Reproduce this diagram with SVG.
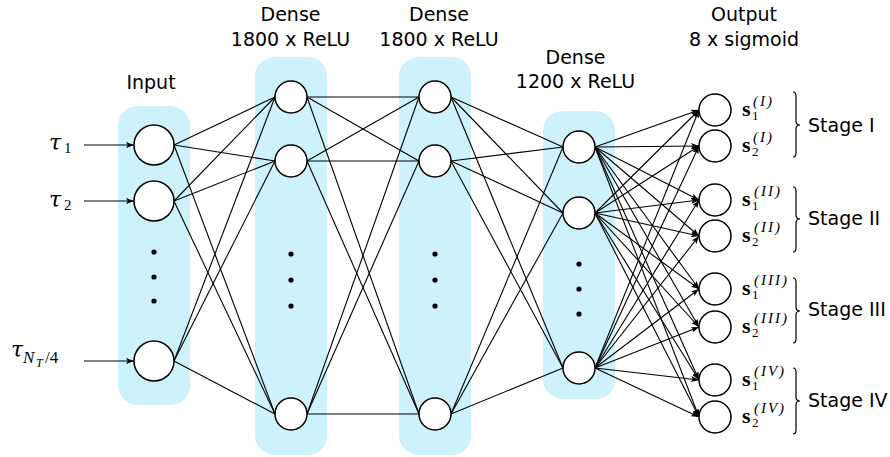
<svg xmlns="http://www.w3.org/2000/svg" width="890" height="457" viewBox="0 0 890 457">
<defs>
<marker id="arr" markerUnits="userSpaceOnUse" markerWidth="9" markerHeight="6" refX="8" refY="3" orient="auto">
<path d="M0,0 L8,3 L0,6 L1.8,3 Z" fill="#000"/>
</marker>
<style>
.bg{fill:#cdf2fb}
.n{fill:#fff;stroke:#000;stroke-width:1.5}
.c line{stroke:#000;stroke-width:1.1}
.a{stroke:#000;stroke-width:1.1;marker-end:url(#arr)}
.t{font-family:"DejaVu Sans",sans-serif;font-size:19px;fill:#000;text-anchor:middle}
.st{font-family:"DejaVu Sans",sans-serif;font-size:19px;fill:#000}
.m{font-family:"Liberation Serif",serif;fill:#000}
.tau{font-family:"DejaVu Serif","Liberation Serif",serif;font-style:italic;font-size:22px;fill:#000}
.br{fill:none;stroke:#000;stroke-width:1.2}
</style>
</defs>
<rect width="890" height="457" fill="#fff"/>
<g id="layers">
<rect class="bg" x="118" y="106" width="72" height="299" rx="20"/>
<rect class="bg" x="255" y="57" width="72" height="398" rx="20"/>
<rect class="bg" x="399" y="57" width="72" height="398" rx="20"/>
<rect class="bg" x="543" y="111" width="72" height="288" rx="20"/>
<circle cx="154" cy="252" r="2.6"/><circle cx="154" cy="277" r="2.6"/><circle cx="154" cy="301" r="2.6"/>
<circle cx="291" cy="254" r="2.6"/><circle cx="291" cy="280" r="2.6"/><circle cx="291" cy="306" r="2.6"/>
<circle cx="435" cy="254" r="2.6"/><circle cx="435" cy="280" r="2.6"/><circle cx="435" cy="306" r="2.6"/>
<circle cx="579" cy="264" r="2.6"/><circle cx="579" cy="289" r="2.6"/><circle cx="579" cy="314" r="2.6"/>
</g>
<g id="titles">
<text class="t" x="151" y="89">Input</text>
<text class="t" x="290.5" y="21">Dense</text>
<text class="t" x="290.5" y="46">1800 x ReLU</text>
<text class="t" x="439" y="21">Dense</text>
<text class="t" x="439" y="46">1800 x ReLU</text>
<text class="t" x="575.5" y="64">Dense</text>
<text class="t" x="575.5" y="88">1200 x ReLU</text>
<text class="t" x="744" y="21">Output</text>
<text class="t" x="744" y="46">8 x sigmoid</text>
</g>
<g id="connectors">
<g class="c">
<line x1="174" y1="145" x2="275" y2="97"/><line x1="174" y1="145" x2="275" y2="161"/><line x1="174" y1="145" x2="275" y2="414"/>
<line x1="174" y1="201" x2="275" y2="97"/><line x1="174" y1="201" x2="275" y2="161"/><line x1="174" y1="201" x2="275" y2="414"/>
<line x1="174" y1="361" x2="275" y2="97"/><line x1="174" y1="361" x2="275" y2="161"/><line x1="174" y1="361" x2="275" y2="414"/>
<line x1="307" y1="97" x2="419" y2="97"/><line x1="307" y1="97" x2="419" y2="161"/><line x1="307" y1="97" x2="419" y2="414"/>
<line x1="307" y1="161" x2="419" y2="97"/><line x1="307" y1="161" x2="419" y2="161"/><line x1="307" y1="161" x2="419" y2="414"/>
<line x1="307" y1="414" x2="419" y2="97"/><line x1="307" y1="414" x2="419" y2="161"/><line x1="307" y1="414" x2="419" y2="414"/>
<line x1="451" y1="97" x2="563" y2="147"/><line x1="451" y1="97" x2="563" y2="213"/><line x1="451" y1="97" x2="563" y2="368"/>
<line x1="451" y1="161" x2="563" y2="147"/><line x1="451" y1="161" x2="563" y2="213"/><line x1="451" y1="161" x2="563" y2="368"/>
<line x1="451" y1="414" x2="563" y2="147"/><line x1="451" y1="414" x2="563" y2="213"/><line x1="451" y1="414" x2="563" y2="368"/>
</g>
<g class="a">
<line x1="84" y1="145" x2="134" y2="145"/>
<line x1="84" y1="201" x2="134" y2="201"/>
<line x1="84" y1="361" x2="134" y2="361"/>
<line x1="595" y1="147" x2="699" y2="110"/><line x1="595" y1="147" x2="699" y2="146"/><line x1="595" y1="147" x2="699" y2="200"/><line x1="595" y1="147" x2="699" y2="236"/>
<line x1="595" y1="147" x2="699" y2="289"/><line x1="595" y1="147" x2="699" y2="327"/><line x1="595" y1="147" x2="699" y2="380"/><line x1="595" y1="147" x2="699" y2="417"/>
<line x1="595" y1="213" x2="699" y2="110"/><line x1="595" y1="213" x2="699" y2="146"/><line x1="595" y1="213" x2="699" y2="200"/><line x1="595" y1="213" x2="699" y2="236"/>
<line x1="595" y1="213" x2="699" y2="289"/><line x1="595" y1="213" x2="699" y2="327"/><line x1="595" y1="213" x2="699" y2="380"/><line x1="595" y1="213" x2="699" y2="417"/>
<line x1="595" y1="368" x2="699" y2="110"/><line x1="595" y1="368" x2="699" y2="146"/><line x1="595" y1="368" x2="699" y2="200"/><line x1="595" y1="368" x2="699" y2="236"/>
<line x1="595" y1="368" x2="699" y2="289"/><line x1="595" y1="368" x2="699" y2="327"/><line x1="595" y1="368" x2="699" y2="380"/><line x1="595" y1="368" x2="699" y2="417"/>
</g>
</g>
<g id="in1"><circle class="n" cx="154" cy="145" r="20"/>
<text class="tau" x="49" y="150">τ</text><text class="m" font-size="15" x="64" y="153">1</text></g>
<g id="in2"><circle class="n" cx="154" cy="201" r="20"/>
<text class="tau" x="49" y="207">τ</text><text class="m" font-size="15" x="64" y="210">2</text></g>
<g id="in3"><circle class="n" cx="154" cy="361" r="20"/>
<text class="tau" x="11" y="357">τ</text>
<text class="m" font-style="italic" font-size="17" x="23" y="363">N</text>
<text class="m" font-style="italic" font-size="12" x="36" y="367">T</text>
<text class="m" font-size="17" x="45" y="363">/4</text></g>
<g id="h1a"><circle class="n" cx="291" cy="97" r="16"/></g>
<g id="h1b"><circle class="n" cx="291" cy="161" r="16"/></g>
<g id="h1c"><circle class="n" cx="291" cy="414" r="16"/></g>
<g id="h2a"><circle class="n" cx="435" cy="97" r="16"/></g>
<g id="h2b"><circle class="n" cx="435" cy="161" r="16"/></g>
<g id="h2c"><circle class="n" cx="435" cy="414" r="16"/></g>
<g id="h3a"><circle class="n" cx="579" cy="147" r="16"/></g>
<g id="h3b"><circle class="n" cx="579" cy="213" r="16"/></g>
<g id="h3c"><circle class="n" cx="579" cy="368" r="16"/></g>
<g id="o1"><circle class="n" cx="715" cy="110" r="16"/>
<text class="m" font-weight="bold" font-size="22" x="742" y="116">s</text><text class="m" font-size="13" x="752" y="120">1</text><text class="m" font-style="italic" font-size="15" x="753" y="106" textLength="19">(I)</text></g>
<g id="o2"><circle class="n" cx="715" cy="146" r="16"/>
<text class="m" font-weight="bold" font-size="22" x="742" y="152">s</text><text class="m" font-size="13" x="752" y="156">2</text><text class="m" font-style="italic" font-size="15" x="753" y="142" textLength="19">(I)</text></g>
<g id="o3"><circle class="n" cx="715" cy="200" r="16"/>
<text class="m" font-weight="bold" font-size="22" x="742" y="206">s</text><text class="m" font-size="13" x="752" y="210">1</text><text class="m" font-style="italic" font-size="15" x="754" y="196" textLength="26">(II)</text></g>
<g id="o4"><circle class="n" cx="715" cy="236" r="16"/>
<text class="m" font-weight="bold" font-size="22" x="742" y="242">s</text><text class="m" font-size="13" x="752" y="246">2</text><text class="m" font-style="italic" font-size="15" x="754" y="232" textLength="26">(II)</text></g>
<g id="o5"><circle class="n" cx="715" cy="289" r="16"/>
<text class="m" font-weight="bold" font-size="22" x="742" y="295">s</text><text class="m" font-size="13" x="752" y="299">1</text><text class="m" font-style="italic" font-size="15" x="754" y="285" textLength="33">(III)</text></g>
<g id="o6"><circle class="n" cx="715" cy="327" r="16"/>
<text class="m" font-weight="bold" font-size="22" x="742" y="333">s</text><text class="m" font-size="13" x="752" y="337">2</text><text class="m" font-style="italic" font-size="15" x="754" y="323" textLength="33">(III)</text></g>
<g id="o7"><circle class="n" cx="715" cy="380" r="16"/>
<text class="m" font-weight="bold" font-size="22" x="742" y="386">s</text><text class="m" font-size="13" x="752" y="390">1</text><text class="m" font-style="italic" font-size="15" x="754" y="376" textLength="30">(IV)</text></g>
<g id="o8"><circle class="n" cx="715" cy="417" r="16"/>
<text class="m" font-weight="bold" font-size="22" x="742" y="423">s</text><text class="m" font-size="13" x="752" y="427">2</text><text class="m" font-style="italic" font-size="15" x="754" y="413" textLength="30">(IV)</text></g>
<g id="stages">
<path class="br" d="M793,92 Q796,92 796,96 L796,121 Q796,125 800,125 Q796,125 796,129 L796,153 Q796,157 793,157"/>
<path class="br" d="M793,187 Q796,187 796,191 L796,215 Q796,219 800,219 Q796,219 796,223 L796,248 Q796,252 793,252"/>
<path class="br" d="M793,278 Q796,278 796,282 L796,307 Q796,311 800,311 Q796,311 796,315 L796,339 Q796,343 793,343"/>
<path class="br" d="M793,368 Q796,368 796,372 L796,397 Q796,401 800,401 Q796,401 796,405 L796,430 Q796,434 793,434"/>
<text class="st" x="808" y="132">Stage I</text>
<text class="st" x="808" y="225">Stage II</text>
<text class="st" x="808" y="316">Stage III</text>
<text class="st" x="808" y="407">Stage IV</text>
</g>
</svg>
